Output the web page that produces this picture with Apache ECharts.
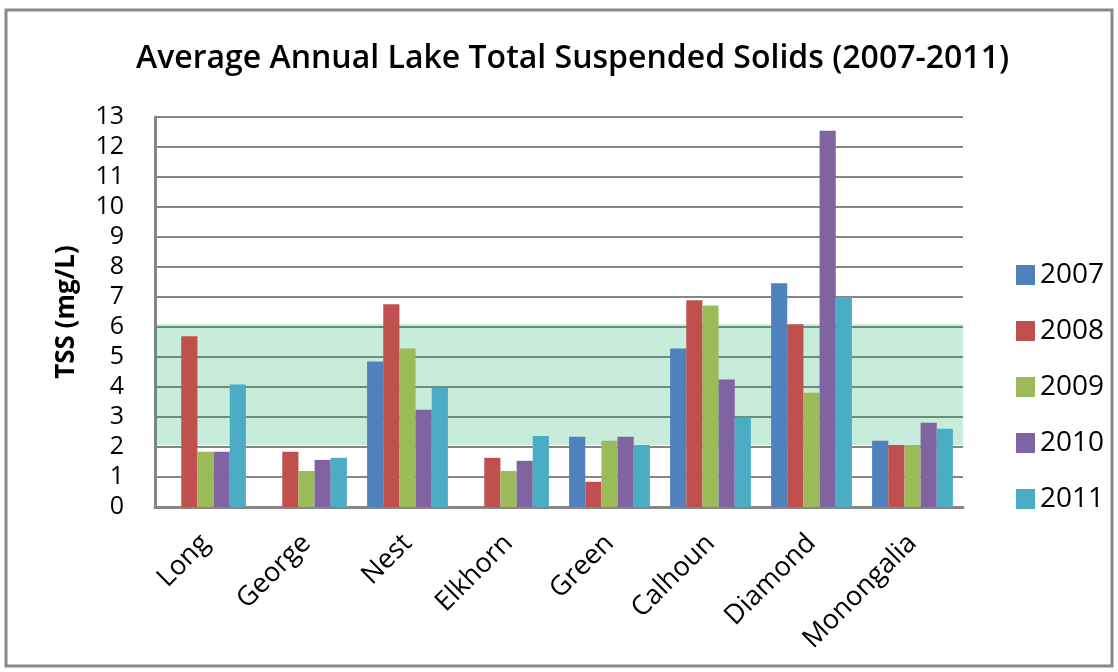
<!DOCTYPE html>
<html>
<head>
<meta charset="utf-8">
<script src="https://cdn.jsdelivr.net/npm/echarts@6/dist/echarts.min.js"></script>
<style>
html,body{margin:0;padding:0;background:#fff}
#main{width:1118px;height:672px}
</style>
</head>
<body>
<div id="main"></div>
<script>
const lakes=['Long','George','Nest','Elkhorn','Green','Calhoun','Diamond','Monongalia']
const years=['2007','2008','2009','2010','2011']
const tss2007=[null,null,4.85,null,2.34,5.28,7.46,2.21]
const tss2008=[5.69,1.84,6.76,1.64,0.84,6.89,6.09,2.07]
const tss2009=[1.84,1.2,5.28,1.2,2.21,6.72,3.81,2.07]
const tss2010=[1.84,1.57,3.24,1.54,2.34,4.25,12.54,2.81]
const tss2011=[4.08,1.64,3.97,2.37,2.07,2.98,7.0,2.61]
const bandLow=2.07
const bandHigh=6.09
const colors=['#4F81BD','#C0504D','#9BBB59','#8064A2','#4BACC6']

const chartDom=document.getElementById('main')
let myChart=echarts.init(chartDom)
let option;
const allData=[tss2007,tss2008,tss2009,tss2010,tss2011]
let series=years.map((y,i)=>({
    name: y,
    type: 'bar',
    data: allData[i],
    barGap: '0%',
    barCategoryGap: '20%',
    itemStyle: {color: colors[i]},
    z: 2
}))
// green reference band drawn over the bars
series.push({
    name: 'band',
    type: 'line',
    data: [],
    z: 10,
    markArea: {
        silent: true,
        itemStyle: {color: 'rgba(0,168,80,0.22)'},
        data: [[{yAxis: bandLow}, {yAxis: bandHigh}]]
    }
})
option={
    animation: false,
    textStyle: {fontFamily: 'Open Sans'},
    graphic: [{
        type: 'rect',
        shape: {x: 6, y: 10, width: 1106, height: 656},
        style: {fill: 'none', stroke: '#888', lineWidth: 3},
        silent: true
    }],
    title: {
        text: 'Average Annual Lake Total Suspended Solids (2007-2011)',
        left: 131,
        top: 38,
        textStyle: {fontSize: 32, fontWeight: 600, color: '#000', fontFamily: 'Open Sans'}
    },
    legend: {
        data: years,
        orient: 'vertical',
        left: 1011,
        top: 256,
        itemWidth: 19,
        itemHeight: 20,
        itemGap: 28,
        icon: 'rect',
        textStyle: {fontSize: 28, color: '#000', fontFamily: 'Open Sans'}
    },
    grid: {left: 155, right: 155, top: 117, bottom: 165},
    xAxis: {
        type: 'category',
        data: lakes,
        axisLine: {lineStyle: {color: '#868686', width: 3}},
        axisTick: {show: false},
        axisLabel: {rotate: 45, fontSize: 27, color: '#000', margin: 32, fontFamily: 'Open Sans'}
    },
    yAxis: {
        type: 'value',
        min: 0,
        max: 13,
        interval: 1,
        name: 'TSS (mg/L)',
        nameLocation: 'middle',
        nameGap: 75,
        nameTextStyle: {fontSize: 26, fontWeight: 'bold', color: '#000', fontFamily: 'Open Sans'},
        axisLine: {show: true, lineStyle: {color: '#868686', width: 3}},
        axisTick: {show: false},
        axisLabel: {fontSize: 25, color: '#000', margin: 31, fontFamily: 'Open Sans'},
        splitLine: {lineStyle: {color: '#868686', width: 2}}
    },
    series: series
}

option && myChart.setOption(option);
</script>
</body>
</html>
